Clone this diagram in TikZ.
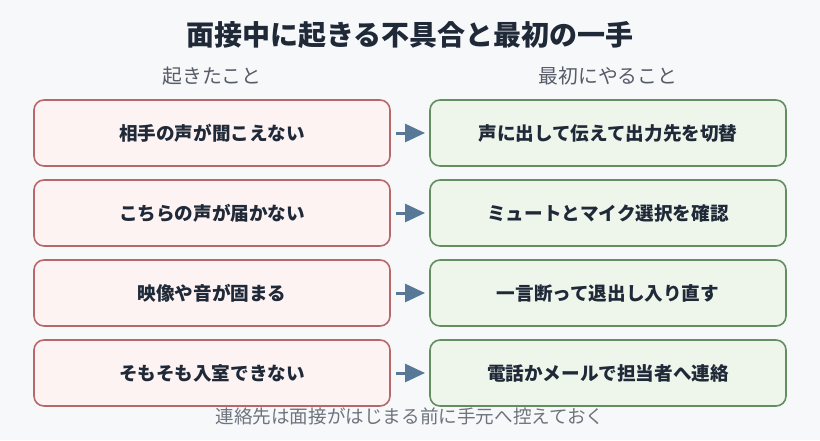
\documentclass[tikz,border=0pt]{standalone}
\usepackage{fontspec}
\setmainfont{Noto Sans CJK JP}
\usepackage{xcolor}
\usetikzlibrary{arrows.meta,positioning}
\definecolor{paper}{RGB}{247,248,250}
\definecolor{ink}{RGB}{31,41,55}
\definecolor{greyink}{RGB}{85,92,104}
\definecolor{noteink}{RGB}{110,116,126}
\definecolor{issuered}{RGB}{184,104,106}
\definecolor{issuefill}{RGB}{253,243,243}
\definecolor{fixgreen}{RGB}{98,142,96}
\definecolor{fixfill}{RGB}{238,246,236}
\definecolor{flowblue}{RGB}{88,120,152}

\begin{document}
\begin{tikzpicture}[x=1pt, y=-1pt, node distance=14pt and 40pt, every node/.style={align=center},
 issue/.style={draw=issuered, fill=issuefill, rounded corners=10pt, line width=1.6pt, outer sep=0pt, minimum width=356pt, minimum height=66pt, text=ink, font=\fontsize{18.6}{22}\selectfont\bfseries},
 fix/.style={draw=fixgreen, fill=fixfill, rounded corners=10pt, line width=1.6pt, outer sep=0pt, minimum width=356pt, minimum height=66pt, text=ink, font=\fontsize{18.6}{22}\selectfont\bfseries},
 colhead/.style={text=greyink, font=\fontsize{19.8}{24}\selectfont},
 flow/.style={-{Triangle[length=20pt,width=18pt]}, line width=3pt, draw=flowblue, shorten <=6pt, shorten >=5pt}]
\useasboundingbox[fill=paper] (0,0) rectangle (820,440);
\node[text=ink, font=\fontsize{28}{32}\selectfont\bfseries] (title) at (410,35) {面接中に起きる不具合と最初の一手};
\node[colhead] (leftcol) at (212,76) {起きたこと};
\node[colhead] (rightcol) at (608,76) {最初にやること};
% left column
\node[issue] (i1) at (212,133) {相手の声が聞こえない};
\node[issue, below=of i1] (i2) {こちらの声が届かない};
\node[issue, below=of i2] (i3) {映像や音が固まる};
\node[issue, below=of i3] (i4) {そもそも入室できない};
% right column
\node[fix, right=of i1] (f1) {声に出して伝えて出力先を切替};
\node[fix, right=of i2] (f2) {ミュートとマイク選択を確認};
\node[fix, right=of i3] (f3) {一言断って退出し入り直す};
\node[fix, right=of i4] (f4) {電話かメールで担当者へ連絡};
\foreach \k in {1,...,4}
  \draw[flow] (i\k) -- (f\k);
\node[text=noteink, font=\fontsize{18.6}{22}\selectfont] (note) at (410,416) {連絡先は面接がはじまる前に手元へ控えておく};
\end{tikzpicture}
\end{document}
